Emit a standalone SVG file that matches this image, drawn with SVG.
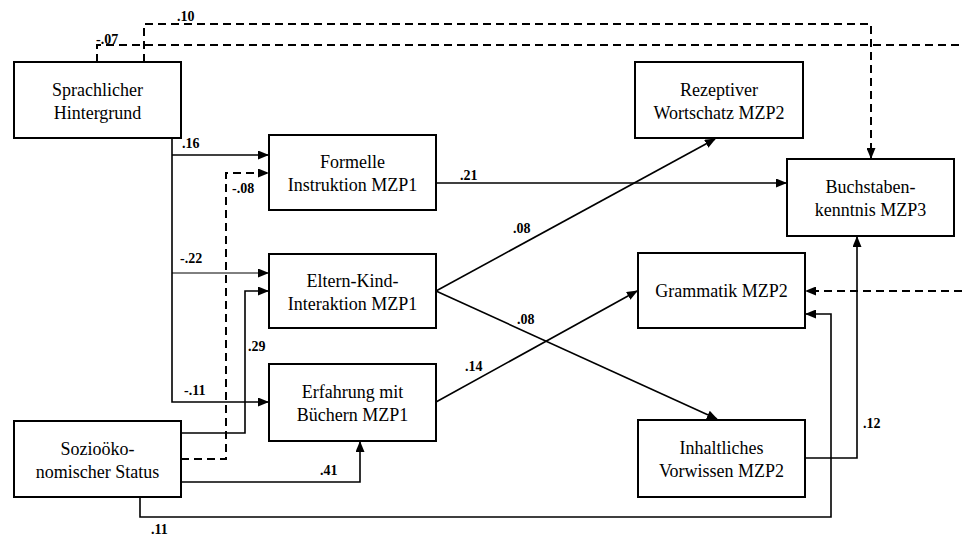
<svg xmlns="http://www.w3.org/2000/svg" width="962" height="537" viewBox="0 0 962 537">
<style>
.box{fill:#fff;stroke:#000;stroke-width:2}
.nt{font-size:18px;text-anchor:middle;fill:#000}
.lb{font-size:14px;font-weight:bold;fill:#000}
.c{fill:none;stroke:#000;stroke-width:1.6}
.thin{fill:none;stroke:#000;stroke-width:1}
.d{fill:none;stroke:#000;stroke-width:2;stroke-dasharray:8,5}
</style>
<defs>
<marker id="ah" markerUnits="userSpaceOnUse" markerWidth="11" markerHeight="9" refX="10" refY="4.5" orient="auto">
<path d="M0,0 L11,4.5 L0,9 z" fill="#000"/>
</marker>
</defs>
<g id="connectors">
<path class="d" d="M97,62 V45 H962"/>
<path class="d" d="M144,62 V24 H871 V158" marker-end="url(#ah)"/>
<path class="d" d="M962,291 H806" marker-end="url(#ah)"/>
<path class="c" d="M172,138 V402 H268" marker-end="url(#ah)"/>
<path class="c" d="M172,155 H268" marker-end="url(#ah)"/>
<path class="thin" d="M172,273 H268" marker-end="url(#ah)"/>
<path class="d" d="M181,459 H226 V173 H268" marker-end="url(#ah)"/>
<path class="c" d="M181,433 H245 V291 H268" marker-end="url(#ah)"/>
<path class="c" d="M181,482 H360 V442" marker-end="url(#ah)"/>
<path class="c" d="M140,497 V517 H831 V314 H806" marker-end="url(#ah)"/>
<path class="c" d="M436,183 H786" marker-end="url(#ah)"/>
<path class="c" d="M436,291 L715,139" marker-end="url(#ah)"/>
<path class="c" d="M436,291 L717,419" marker-end="url(#ah)"/>
<path class="c" d="M436,402 L637,291" marker-end="url(#ah)"/>
<path class="c" d="M805,458 H857 V237" marker-end="url(#ah)"/>
<g font-family="Liberation Serif, Tinos, Noto Serif, DejaVu Serif, FreeSerif, Times, serif">
<text class="lb" x="177" y="21">.10</text>
<text class="lb" x="96" y="44">-.07</text>
<text class="lb" x="182" y="148">.16</text>
<text class="lb" x="232" y="193">-.08</text>
<text class="lb" x="180" y="263">-.22</text>
<text class="lb" x="248" y="351">.29</text>
<text class="lb" x="184" y="395">-.11</text>
<text class="lb" x="320" y="475">.41</text>
<text class="lb" x="151" y="534">.11</text>
<text class="lb" x="460" y="180">.21</text>
<text class="lb" x="513" y="233">.08</text>
<text class="lb" x="517" y="324">.08</text>
<text class="lb" x="465" y="371">.14</text>
<text class="lb" x="863" y="428">.12</text>
</g>
</g>
<g font-family="Liberation Serif, Tinos, Noto Serif, DejaVu Serif, FreeSerif, Times, serif">
<g id="sprachlicher">
<rect class="box" x="14" y="62" width="167" height="76"/>
<text class="nt" x="97.5" y="96">Sprachlicher</text>
<text class="nt" x="97.5" y="119">Hintergrund</text>
</g>
<g id="sozio">
<rect class="box" x="14" y="421" width="167" height="76"/>
<text class="nt" x="97.5" y="455">Sozioöko-</text>
<text class="nt" x="97.5" y="478">nomischer Status</text>
</g>
<g id="formelle">
<rect class="box" x="269" y="135" width="167" height="75"/>
<text class="nt" x="352.5" y="168">Formelle</text>
<text class="nt" x="352.5" y="191">Instruktion MZP1</text>
</g>
<g id="eltern">
<rect class="box" x="269" y="254" width="167" height="74"/>
<text class="nt" x="352.5" y="287">Eltern-Kind-</text>
<text class="nt" x="352.5" y="310">Interaktion MZP1</text>
</g>
<g id="erfahrung">
<rect class="box" x="269" y="364" width="167" height="77"/>
<text class="nt" x="352.5" y="398">Erfahrung mit</text>
<text class="nt" x="352.5" y="421">Büchern MZP1</text>
</g>
<g id="rezeptiver">
<rect class="box" x="635" y="62" width="168" height="76"/>
<text class="nt" x="719" y="96">Rezeptiver</text>
<text class="nt" x="719" y="119">Wortschatz MZP2</text>
</g>
<g id="grammatik">
<rect class="box" x="638" y="253" width="167" height="75"/>
<text class="nt" x="721.5" y="297">Grammatik MZP2</text>
</g>
<g id="inhaltliches">
<rect class="box" x="638" y="420" width="167" height="77"/>
<text class="nt" x="721.5" y="454">Inhaltliches</text>
<text class="nt" x="721.5" y="477">Vorwissen MZP2</text>
</g>
<g id="buchstaben">
<rect class="box" x="787" y="159" width="167" height="77"/>
<text class="nt" x="870.5" y="193">Buchstaben-</text>
<text class="nt" x="870.5" y="216">kenntnis MZP3</text>
</g>
</g>
</svg>
